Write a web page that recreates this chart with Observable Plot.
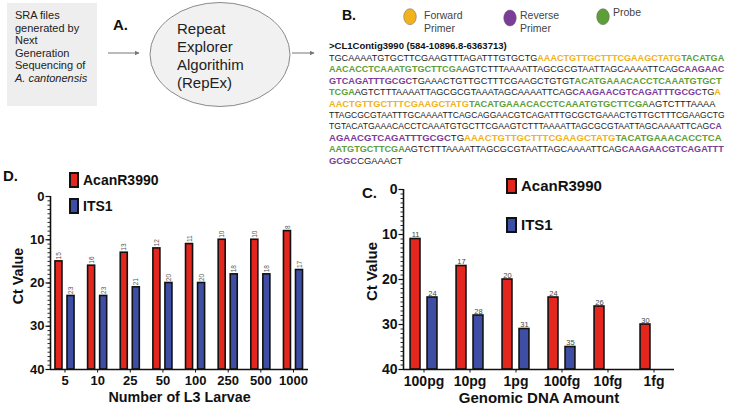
<!DOCTYPE html>
<html>
<head>
<meta charset="utf-8">
<script src="https://cdn.jsdelivr.net/npm/d3@7"></script>
<script src="https://cdn.jsdelivr.net/npm/@observablehq/plot@0.6"></script>
<style>
  html, body { margin: 0; padding: 0; background: #fff; }
  #root { position: relative; width: 729px; height: 409px; overflow: hidden; background: #fff;
          font-family: "Liberation Sans", Arial, Helvetica, sans-serif; color: #111; }
  .abs { position: absolute; }
  .lbl { position: absolute; font-weight: bold; white-space: nowrap; }
  .sw { position: absolute; box-sizing: border-box; border: 2px solid #111; }
</style>
</head>
<body>
<div id="root"></div>
<script>
// ---------------- data ----------------
const seriesNames = ["AcanR3990", "ITS1"];
const seriesColors = ["#e3261e", "#3f4ea5"];

const larvaeCats = ["5", "10", "25", "50", "100", "250", "500", "1000"];
const larvaeAcan = [15, 16, 13, 12, 11, 10, 10, 8];
const larvaeITS1 = [23, 23, 21, 20, 20, 18, 18, 17];

const dnaCats = ["100pg", "10pg", "1pg", "100fg", "10fg", "1fg"];
const dnaAcan = [11, 17, 20, 24, 26, 30];
const dnaITS1 = [24, 28, 31, 35, null, null];

const yTicksMajor = [0, 10, 20, 30, 40];

const boxLines = ["SRA files", "generated by", "Next", "Generation", "Sequencing of", "A. cantonensis"];
const ellipseLines = ["Repeat", "Explorer", "Algorithim", "(RepEx)"];
const primerLegend = [
  {key: "f", lines: ["Forward", "Primer"]},
  {key: "r", lines: ["Reverse", "Primer"]},
  {key: "p", lines: ["Probe"]}
];
const seqHeader = ">CL1Contig3990 (584-10896.8-6363713)";
const seqLines = [
  [["TGCAAAATGTGCTTCGAAGTTTAGATTTGTGCTG","n"],["AAACTGTTGCTTTCGAAGCTATG","f"],["TACATGA","p"]],
  [["AACACCTCAAATGTGCTTCGA","p"],["AGTCTTTAAAATTAGCGCGTAATTAGCAAAATTCAG","n"],["CAAGAAC","r"]],
  [["GTCAGATTTGCGC","r"],["TGAAACTGTTGCTTTCGAAGCTGTGT","n"],["ACATGAAACACCTCAAATGTGCT","p"]],
  [["TCGA","p"],["AGTCTTTAAAATTAGCGCGTAAATAGCAAAATTCAG","n"],["CAAGAACGTCAGATTTGCGC","r"],["TG","n"],["A","f"]],
  [["AACTGTTGCTTTCGAAGCTATG","f"],["TACATGAAACACCTCAAATGTGCTTCGA","p"],["AGTCTTTAAAA","n"]],
  [["TTAGCGCGTAATTTGCAAAATTCAGCAGGAACGTCAGATTTGCGCTGAAACTGTTGCTTTCGAAGCTG","n"]],
  [["TGTACATGAAACACCTCAAATGTGCTTCGAAGTCTTTAAAATTAGCGCGTAATTAGCAAAATTCAG","n"],["CA","r"]],
  [["AGAACGTCAGATTTGCGC","r"],["TG","n"],["AAACTGTTGCTTTCGAAGCTATG","f"],["TACATGAAACACCTCA","p"]],
  [["AATGTGCTTCGA","p"],["AGTCTTTAAAATTAGCGCGTAATTAGCAAAATTCAG","n"],["CAAGAACGTCAGATTT","r"]],
  [["GCGC","r"],["CGAAACT","n"]]
];
const seqLineEnds = [725, 725, 722, 721, 716, 725, 722, 722, 724, 398];
const seqColors = {n: "#222", f: "#f2b21b", r: "#7b3d97", p: "#5e9e38"};

// ---------------- top diagram ----------------
const root = document.getElementById("root");
const NS = "http://www.w3.org/2000/svg";
function el(tag, attrs, parent, text) {
  const e = document.createElementNS(NS, tag);
  for (const k in attrs) e.setAttribute(k, attrs[k]);
  if (text != null) e.textContent = text;
  if (parent) parent.appendChild(e);
  return e;
}
const topSvg = el("svg", {width: 729, height: 172, class: "abs", style: "left:0;top:0;font-family:'Liberation Sans',Arial,sans-serif"}, root);
const defs = el("defs", {}, topSvg);
const mk = el("marker", {id: "ah", viewBox: "0 0 10 10", refX: 9, refY: 5, markerWidth: 5, markerHeight: 5, orient: "auto"}, defs);
el("path", {d: "M0,0 L10,5 L0,10 z", fill: "#777"}, mk);

el("rect", {x: 7, y: 3, width: 90, height: 103, fill: "#eeeeee"}, topSvg);
boxLines.forEach((t, i) => {
  el("text", {x: 15, y: 19 + i * 12.6, "font-size": 11, fill: "#222", "font-style": i === 5 ? "italic" : "normal"}, topSvg, t);
});
el("text", {x: 113, y: 30, "font-size": 15, "font-weight": "bold", fill: "#111"}, topSvg, "A.");
el("line", {x1: 108, y1: 53, x2: 139, y2: 53, stroke: "#777", "stroke-width": 1, "marker-end": "url(#ah)"}, topSvg);
el("ellipse", {cx: 220, cy: 54.5, rx: 70, ry: 52, fill: "#f1f1f1", stroke: "#8a8a8a", "stroke-width": 1}, topSvg);
ellipseLines.forEach((t, i) => {
  el("text", {x: 177, y: 33.5 + i * 18.2, "font-size": 15, fill: "#222"}, topSvg, t);
});
el("line", {x1: 292, y1: 53, x2: 314, y2: 53, stroke: "#777", "stroke-width": 1, "marker-end": "url(#ah)"}, topSvg);

el("text", {x: 342, y: 20, "font-size": 14, "font-weight": "bold", fill: "#111"}, topSvg, "B.");
const legX = [410, 510, 603], legY = [16.7, 18, 16.7], legTx = [424, 520, 613];
primerLegend.forEach((p, i) => {
  el("ellipse", {cx: legX[i], cy: legY[i], rx: 6.3, ry: 8, fill: seqColors[p.key], stroke: "#666", "stroke-width": 0.5}, topSvg);
  p.lines.forEach((t, j) => {
    el("text", {x: legTx[i], y: (p.lines.length === 1 ? 16 : 19) + j * 12.8, "font-size": 10.5, fill: "#444"}, topSvg, t);
  });
});

// header: fit by font size
{
  const h = el("text", {x: 329, y: 49, "font-size": 10, "font-weight": "bold", fill: "#111"}, topSvg, seqHeader);
  const w = h.getComputedTextLength();
  h.setAttribute("font-size", (10 * 178 / w).toFixed(2));
}
// sequence: each line fitted by font size (no glyph stretching), segments laid side by side
seqLines.forEach((segs, i) => {
  const y = 61 + i * 11.4;
  const g = el("g", {}, topSvg);
  const texts = segs.map(([s, k]) => el("text", {x: 0, y, "font-size": 10, fill: seqColors[k], "font-weight": k === "n" ? "normal" : "bold"}, g, s));
  const nat = d3.sum(texts, t => t.getComputedTextLength());
  const fs = i === seqLines.length - 1 ? 9.4 : 10 * (seqLineEnds[i] - 329) / nat;
  texts.forEach(t => t.setAttribute("font-size", fs.toFixed(3)));
  let x = 329;
  texts.forEach(t => {
    t.setAttribute("x", x.toFixed(2));
    x += t.getComputedTextLength();
  });
});

// ---------------- bar charts ----------------
const off = [[-0.292, -0.077], [0.077, 0.292]];
function barChart(cfg) {
  const rows = [];
  cfg.cats.forEach((c, i) => {
    if (cfg.a[i] != null) rows.push({i, s: 0, value: cfg.a[i]});
    if (cfg.b[i] != null) rows.push({i, s: 1, value: cfg.b[i]});
  });
  const n = cfg.cats.length;
  const x0 = cfg.xDomain[0];
  const labelMark = cfg.rotate
    ? Plot.text(rows, {x: d => d.i + (off[d.s][0] + off[d.s][1]) / 2, y: "value", text: d => String(d.value),
        rotate: -90, textAnchor: "start", dy: -2, fontSize: cfg.valSize, fill: "#555"})
    : Plot.text(rows, {x: d => d.i + (off[d.s][0] + off[d.s][1]) / 2, y: "value", text: d => String(d.value),
        textAnchor: "middle", lineAnchor: "bottom", dy: -2, fontSize: cfg.valSize, fill: "#444"});
  const svg = Plot.plot({
    width: cfg.width, height: cfg.height,
    marginLeft: cfg.marginLeft, marginRight: cfg.marginRight, marginTop: cfg.marginTop, marginBottom: cfg.marginBottom,
    style: {fontFamily: "'Liberation Sans', Arial, Helvetica, sans-serif", background: "transparent", color: "#111", overflow: "visible"},
    x: {type: "linear", domain: cfg.xDomain, label: null},
    y: {type: "linear", domain: [0, 40], reverse: true, label: null},
    marks: [
      Plot.rect(rows, {x1: d => d.i + off[d.s][0], x2: d => d.i + off[d.s][1], y1: () => 40, y2: "value",
        fill: d => seriesColors[d.s], stroke: "#111", strokeWidth: 1.6}),
      labelMark,
      Plot.axisY({ticks: d3.range(0, 41), tickSize: 2.5, tickFormat: () => "", label: null, strokeWidth: 0.9}),
      Plot.axisY({ticks: yTicksMajor, tickSize: 4.5, tickPadding: 1.5, fontSize: cfg.tickSize, fontWeight: "bold", label: null, strokeWidth: 1.2}),
      Plot.axisX({ticks: d3.range(n), tickFormat: i => cfg.cats[i], tickSize: 3.5, tickPadding: 3, fontSize: cfg.tickSize, fontWeight: "bold", label: null}),
      Plot.ruleX([x0], {stroke: "#111", strokeWidth: 1.6}),
      Plot.ruleY([40], {stroke: "#111", strokeWidth: 1.6}),
      Plot.text(["Ct Value"], {frameAnchor: "left", text: d => d, rotate: -90, textAnchor: "middle", dx: cfg.yLabelDx, dy: cfg.yLabelDy,
        fontSize: cfg.titleSize, fontWeight: "bold", fill: "#111"}),
      Plot.text([cfg.xTitle], {frameAnchor: "bottom", text: d => d, textAnchor: "middle", dy: cfg.xLabelDy,
        fontSize: cfg.titleSize, fontWeight: "bold", fill: "#111"})
    ]
  });
  const wrap = document.createElement("div");
  wrap.className = "abs";
  wrap.style.left = cfg.left + "px";
  wrap.style.top = cfg.top + "px";
  wrap.style.width = cfg.width + "px";
  wrap.appendChild(svg);
  root.appendChild(wrap);
}

barChart({
  cats: larvaeCats, a: larvaeAcan, b: larvaeITS1, rotate: true,
  left: 0, top: 184, width: 330, height: 225,
  marginLeft: 50, marginRight: 22, marginTop: 12, marginBottom: 40,
  xDomain: [-0.444, 7.46], tickSize: 13, valSize: 6.5, titleSize: 14.3,
  yLabelDx: -32, yLabelDy: -7, xLabelDy: 32, xTitle: "Number of L3 Larvae"
});

barChart({
  cats: dnaCats, a: dnaAcan, b: dnaITS1, rotate: false,
  left: 345, top: 180, width: 384, height: 229,
  marginLeft: 58, marginRight: 55, marginTop: 9, marginBottom: 40,
  xDomain: [-0.446, 5.446], tickSize: 14, valSize: 7.5, titleSize: 15,
  yLabelDx: -31, yLabelDy: -8, xLabelDy: 33, xTitle: "Genomic DNA Amount"
});

// ---------------- panel letters and legends ----------------
function html(cls, styles, text) {
  const d = document.createElement("div");
  d.className = cls;
  Object.assign(d.style, styles);
  if (text != null) d.textContent = text;
  root.appendChild(d);
  return d;
}
html("lbl", {left: "3px", top: "167px", fontSize: "15px", lineHeight: "18px"}, "D.");
html("lbl", {left: "362px", top: "184px", fontSize: "15px", lineHeight: "18px"}, "C.");

const legD = {x: 69, tx: 83, ys: [172, 198], w: 10, h: 16, fs: 14};
const legC = {x: 506, tx: 521, ys: [178, 217], w: 11, h: 16, fs: 15};
[legD, legC].forEach(L => {
  seriesNames.forEach((name, k) => {
    html("sw", {left: L.x + "px", top: L.ys[k] + "px", width: L.w + "px", height: L.h + "px", background: seriesColors[k]});
    html("lbl", {left: L.tx + "px", top: L.ys[k] + "px", fontSize: L.fs + "px", lineHeight: L.h + "px"}, name);
  });
});
</script>
</body>
</html>
